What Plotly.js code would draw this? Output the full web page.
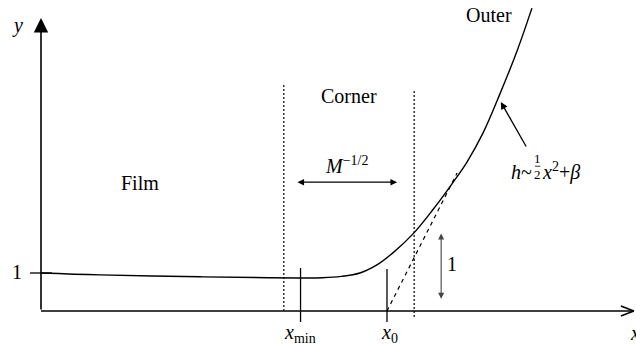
<!DOCTYPE html>
<html>
<head>
<meta charset="utf-8">
<script src="https://cdn.plot.ly/plotly-3.0.1.min.js"></script>
<style>html,body{margin:0;padding:0;background:#fff;}</style>
</head>
<body>
<div id="chart" style="width:636px;height:346px;"></div>
<script>
// Film / corner / outer profile h(x), in units of film thickness
const profileX = [0, 1.55, 4.18, 6.0, 6.82, 7.4, 7.9, 8.39, 8.85, 9.26, 9.79, 10.3, 10.84, 11.21, 11.63, 12.08, 12.53, 12.92];
const profileY = [1.0, 0.95, 0.9, 0.875, 0.87, 0.875, 0.91, 1.0, 1.22, 1.53, 2.03, 2.65, 3.38, 3.92, 4.68, 5.72, 6.85, 7.97];
// tangent (dashed) from x0
const tangentX = [9.105, 10.95];
const tangentY = [0, 3.63];
// corner-region boundaries (dotted)
const cornerLeftX = [6.39, 6.39];
const cornerLeftY = [0, 6.0];
const cornerRightX = [9.82, 9.82];
const cornerRightY = [-0.16, 5.84];
// marks at x_min and x0
const xminMarkX = [6.83, 6.83];
const xminMarkY = [-0.29, 1.13];
const x0MarkX = [9.105, 9.105];
const x0MarkY = [-0.29, 1.105];
// y tick at 1
const yTickX = [-0.29, 0.29];
const yTickY = [1, 1];
// axes
const xAxisX = [0, 15.6];
const xAxisY = [0, 0];
const xHeadX = [15.26, 15.6, 15.26];
const xHeadY = [0.13, 0, -0.13];
const yAxisTop = 7.71;

const black = '#000';
function seg(x, y, dash, w, shape) {
  return {x: x, y: y, mode: 'lines', type: 'scatter', hoverinfo: 'skip',
          line: {color: black, width: w || 1.3, dash: dash || 'solid', shape: shape || 'linear', smoothing: 1}};
}

const traces = [
  seg(xAxisX, xAxisY, 'solid', 1.6),
  seg(xHeadX, xHeadY, 'solid', 1.6),
  seg(yTickX, yTickY, 'solid', 1.3),
  seg(profileX, profileY, 'solid', 1.4, 'spline'),
  seg(tangentX, tangentY, '4px,4px', 1.2),
  seg(cornerLeftX, cornerLeftY, '2px,2px', 1.2),
  seg(cornerRightX, cornerRightY, '2px,2px', 1.2),
  seg(xminMarkX, xminMarkY, 'solid', 1.3),
  seg(x0MarkX, x0MarkY, 'solid', 1.3)
];

const serif = 'Liberation Serif';
function txt(x, y, text, size, xanchor) {
  return {x: x, y: y, xref: 'x', yref: 'y', text: text, showarrow: false,
          xanchor: xanchor || 'center', yanchor: 'middle',
          font: {family: serif, size: size || 20, color: black}};
}
function arrow(x, y, ax, ay, both, color, size, width) {
  return {x: x, y: y, ax: ax, ay: ay, xref: 'x', yref: 'y', axref: 'x', ayref: 'y',
          text: '', showarrow: true, arrowhead: 2, startarrowhead: 2,
          arrowside: both ? 'end+start' : 'end',
          arrowsize: size || 1, startarrowsize: size || 1,
          arrowwidth: width || 1.2, arrowcolor: color || black};
}

const annotations = [
  arrow(0, yAxisTop, 0, 0, false, black, 1.8, 1.6),
  arrow(9.37, 3.39, 6.71, 3.39, true, black, 1.1, 1.2),
  arrow(10.53, 0.32, 10.53, 2.08, true, '#444', 1.1, 1.1),
  arrow(12.1, 5.5, 12.79, 4.29, false, black, 1.1, 1.3),
  txt(-0.61, 7.5, '<i>y</i>', 20),
  txt(-0.63, 1.03, '1', 20),
  txt(2.6, 3.37, 'Film', 20),
  txt(8.11, 5.65, 'Corner', 20),
  txt(8.05, 3.85, '<i>M</i><sup>−1/2</sup>', 20),
  txt(11.8, 7.8, 'Outer', 20),
  txt(10.81, 1.24, '1', 20),
  txt(6.82, -0.6, '<i>x</i><sub>min</sub>', 20),
  txt(9.17, -0.6, '<i>x</i><sub>0</sub>', 20),
  txt(15.64, -0.58, '<i>x</i>', 20),
  txt(12.98, 3.65, '<i>h</i>~', 20, 'right'),
  txt(13.07, 4.02, '1', 13),
  txt(13.07, 3.6, '2', 13),
  txt(13.14, 3.66, '<i>x</i><sup>2</sup>+<i>β</i>', 20, 'left')
];

const layout = {
  width: 636, height: 346, autosize: false,
  margin: {l: 0, r: 0, t: 0, b: 0, pad: 0},
  paper_bgcolor: '#fff', plot_bgcolor: '#fff',
  font: {family: serif},
  showlegend: false,
  xaxis: {range: [-1.079, 15.658], visible: false, fixedrange: true},
  yaxis: {range: [-0.921, 8.184], visible: false, fixedrange: true},
  shapes: [
    {type: 'line', xref: 'x', yref: 'y', x0: 13.0, x1: 13.14, y0: 3.81, y1: 3.81, line: {color: black, width: 0.8}}
  ],
  annotations: annotations
};

Plotly.newPlot('chart', traces, layout, {staticPlot: true, displayModeBar: false});
</script>
</body>
</html>
